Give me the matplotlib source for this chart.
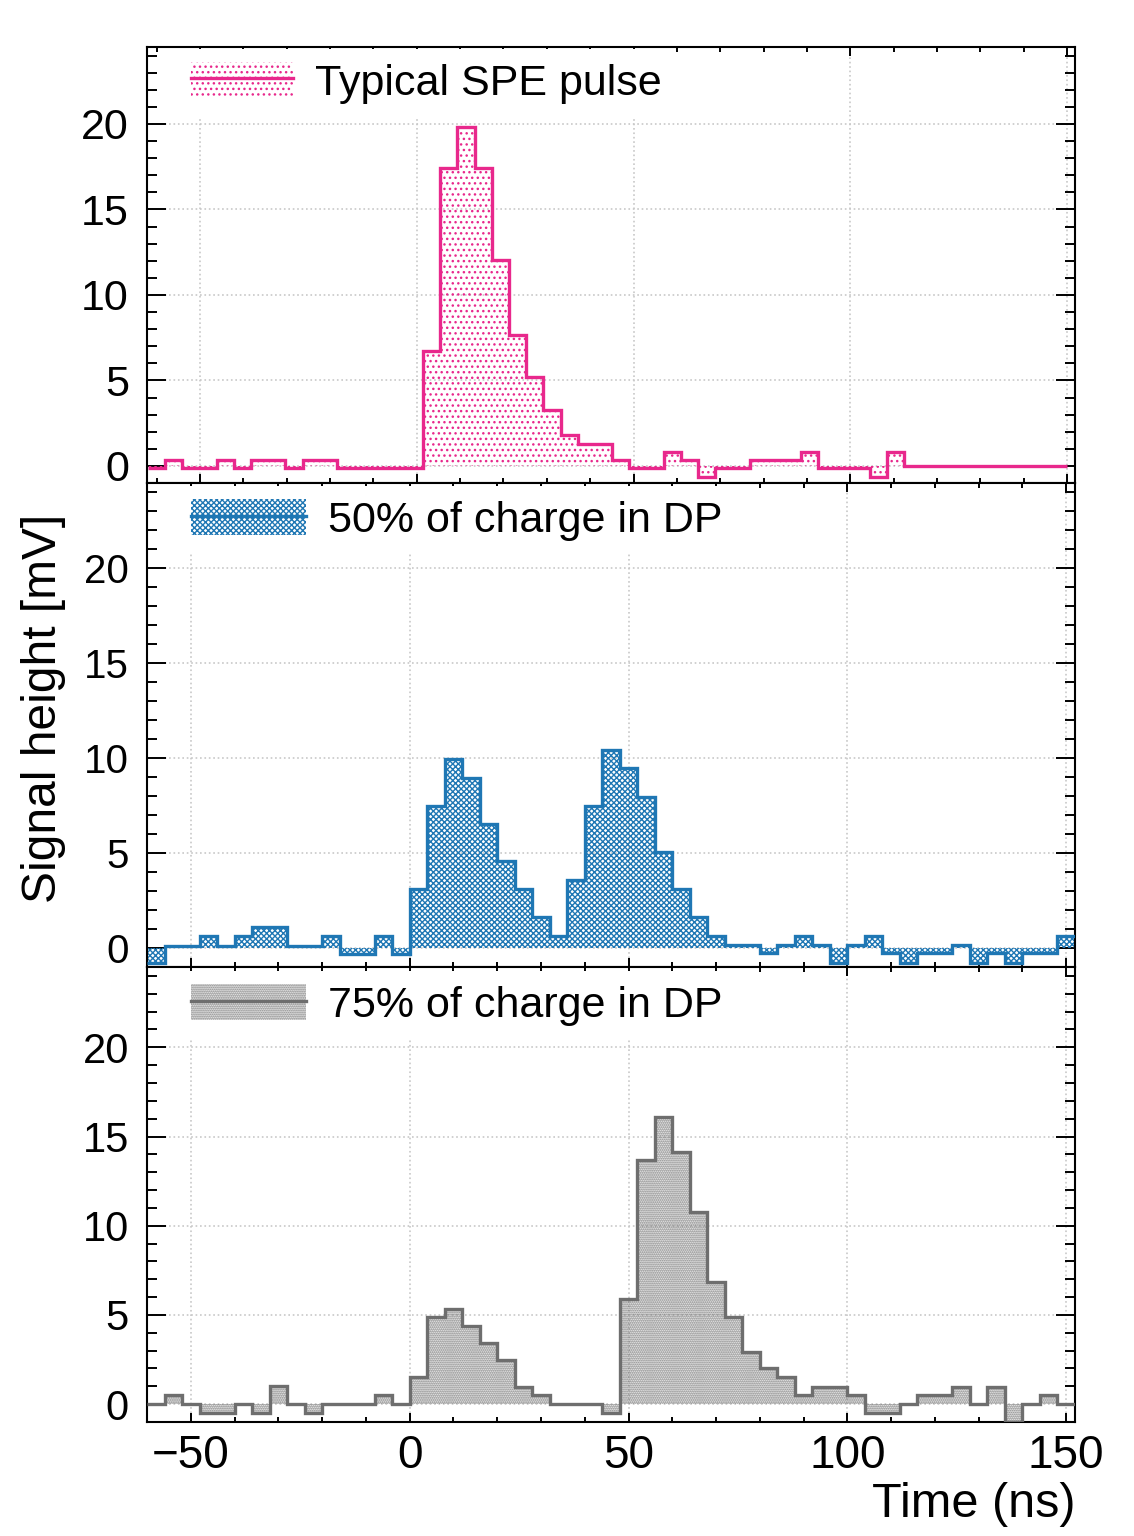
import numpy as np
import matplotlib
matplotlib.use("Agg")
import matplotlib.pyplot as plt
from matplotlib.patches import Patch
from matplotlib.lines import Line2D
from matplotlib.ticker import MultipleLocator

plt.rcParams['font.family'] = ['Liberation Sans', 'DejaVu Sans']
plt.rcParams['hatch.linewidth'] = 1.0

# --- data -------------------------------------------------------------
# typical single photo-electron pulse (slightly different sampling)
spe_t0 = -62.0
spe_bin = 3.965
spe_tend = 150.0
spe_values = [-0.14, 0.35, -0.14, -0.14, 0.35, -0.14, 0.35, 0.35, -0.14, 0.35,
              0.35, -0.14, -0.14, -0.14, -0.14, -0.14, 6.7, 17.44, 19.84, 17.44,
              12.05, 7.68, 5.2, 3.28, 1.78, 1.29, 1.29, 0.35, -0.14, -0.14,
              0.84, 0.35, -0.63, -0.14, -0.14, 0.35, 0.35, 0.35, 0.84, -0.14,
              -0.14, -0.14, -0.63, 0.84, 0.0]

# double pulses, 4 ns bins starting at -60 ns
dp_t0 = -60.0
dp_bin = 4.0
dp50_values = [-0.81, 0.12, 0.12, 0.65, 0.12, 0.65, 1.12, 1.12, 0.12, 0.12,
               0.65, -0.32, -0.32, 0.65, -0.32, 3.09, 7.5, 9.95, 8.98, 6.54,
               4.59, 3.09, 1.65, 0.65, 3.59, 7.5, 10.44, 9.46, 7.98, 5.04,
               3.09, 1.65, 0.65, 0.18, 0.18, -0.25, 0.18, 0.65, 0.18, -0.81,
               0.18, 0.65, -0.25, -0.81, -0.25, -0.25, 0.18, -0.81, -0.25, -0.81,
               -0.25, -0.25, 0.65]
dp75_values = [0.0, 0.5, 0.0, -0.49, -0.49, 0.0, -0.49, 1.01, 0.0, -0.49,
               0.0, 0.0, 0.0, 0.5, 0.0, 1.5, 4.9, 5.36, 4.39, 3.44,
               2.47, 0.97, 0.5, 0.0, 0.0, 0.0, -0.49, 5.87, 13.68, 16.11,
               14.15, 10.75, 6.86, 4.9, 2.93, 2.0, 1.5, 0.5, 0.97, 0.97,
               0.5, -0.49, -0.49, 0.0, 0.5, 0.5, 0.97, 0.0, 0.97, -0.99,
               0.0, 0.5, 0.0]

labels = ['Typical SPE pulse', '50% of charge in DP', '75% of charge in DP']
colors = ['#e8288c', '#1f77b4', '#6e6e6e']
hatches = ['...', 'xxxxxx', '........']

spe_edges = np.append(spe_t0 + spe_bin * np.arange(len(spe_values)), spe_tend)
dp_edges = dp_t0 + dp_bin * np.arange(len(dp50_values) + 1)

# --- layout (pixels of a 1134x1536 canvas) -----------------------------
W, H = 1134, 1536
left, right = 147, 1075
panel_px = [(47, 483), (483, 967), (967, 1422)]
xlims = [(-62.2, 151.8), (-60, 152), (-60, 152)]
ytick_sizes = [31, 29, 30]
handle_len = [2.35, 2.65, 2.65]
leg_y_px = [83, 520, 1005]

fig = plt.figure(figsize=(W / 100, H / 100), dpi=100)

series = [(spe_values, spe_edges), (dp50_values, dp_edges), (dp75_values, dp_edges)]

for i, (vals, edges) in enumerate(series):
    top, bot = panel_px[i]
    ax = fig.add_axes([left / W, 1 - bot / H, (right - left) / W, (bot - top) / H])
    c = colors[i]

    ax.stairs(vals, edges, baseline=0, fill=True, facecolor='none',
              edgecolor=c, hatch=hatches[i], linewidth=0, zorder=2)
    ax.stairs(vals, edges, baseline=None, color=c, linewidth=2.4, zorder=3)

    ax.set_xlim(*xlims[i])
    ax.set_ylim(-1.0, 24.5)
    ax.xaxis.set_major_locator(MultipleLocator(50))
    ax.xaxis.set_minor_locator(MultipleLocator(10))
    ax.yaxis.set_major_locator(MultipleLocator(5))
    ax.yaxis.set_minor_locator(MultipleLocator(1))
    ax.set_axisbelow(True)
    ax.grid(True, which='major', color='#c8c8c8', linestyle=':', linewidth=1.2)

    ax.tick_params(axis='both', which='both', direction='in',
                   top=True, right=True, width=1.4)
    ax.tick_params(axis='x', which='major', length=6.5)
    ax.tick_params(axis='x', which='minor', length=3.6)
    ax.tick_params(axis='y', which='major', length=13.7, pad=13,
                   labelsize=ytick_sizes[i])
    ax.tick_params(axis='y', which='minor', length=7)
    if i < 2:
        ax.tick_params(axis='x', labelbottom=False)
    else:
        ax.tick_params(axis='x', labelsize=33, pad=9)
    for sp in ax.spines.values():
        sp.set_linewidth(1.5)

    h = (Patch(facecolor='none', edgecolor=c, hatch=hatches[i], linewidth=0),
         Line2D([], [], color=c, linewidth=2.4))
    leg = ax.legend([h], [labels[i]], loc='center left',
                    bbox_to_anchor=(0.034, (bot - leg_y_px[i]) / (bot - top)),
                    borderaxespad=0, borderpad=0.3, fontsize=31,
                    handlelength=handle_len[i], handleheight=0.92,
                    handletextpad=0.53, fancybox=False, framealpha=1,
                    facecolor='white', edgecolor='none')

fig.text(44 / W, 1 - 708 / H, 'Signal height [mV]', rotation=90,
         ha='center', va='center', fontsize=34.5)
fig.text(right / W, 1 - 1517 / H, 'Time (ns)', ha='right', va='baseline',
         fontsize=35)

fig.savefig('out.png', dpi=100)
